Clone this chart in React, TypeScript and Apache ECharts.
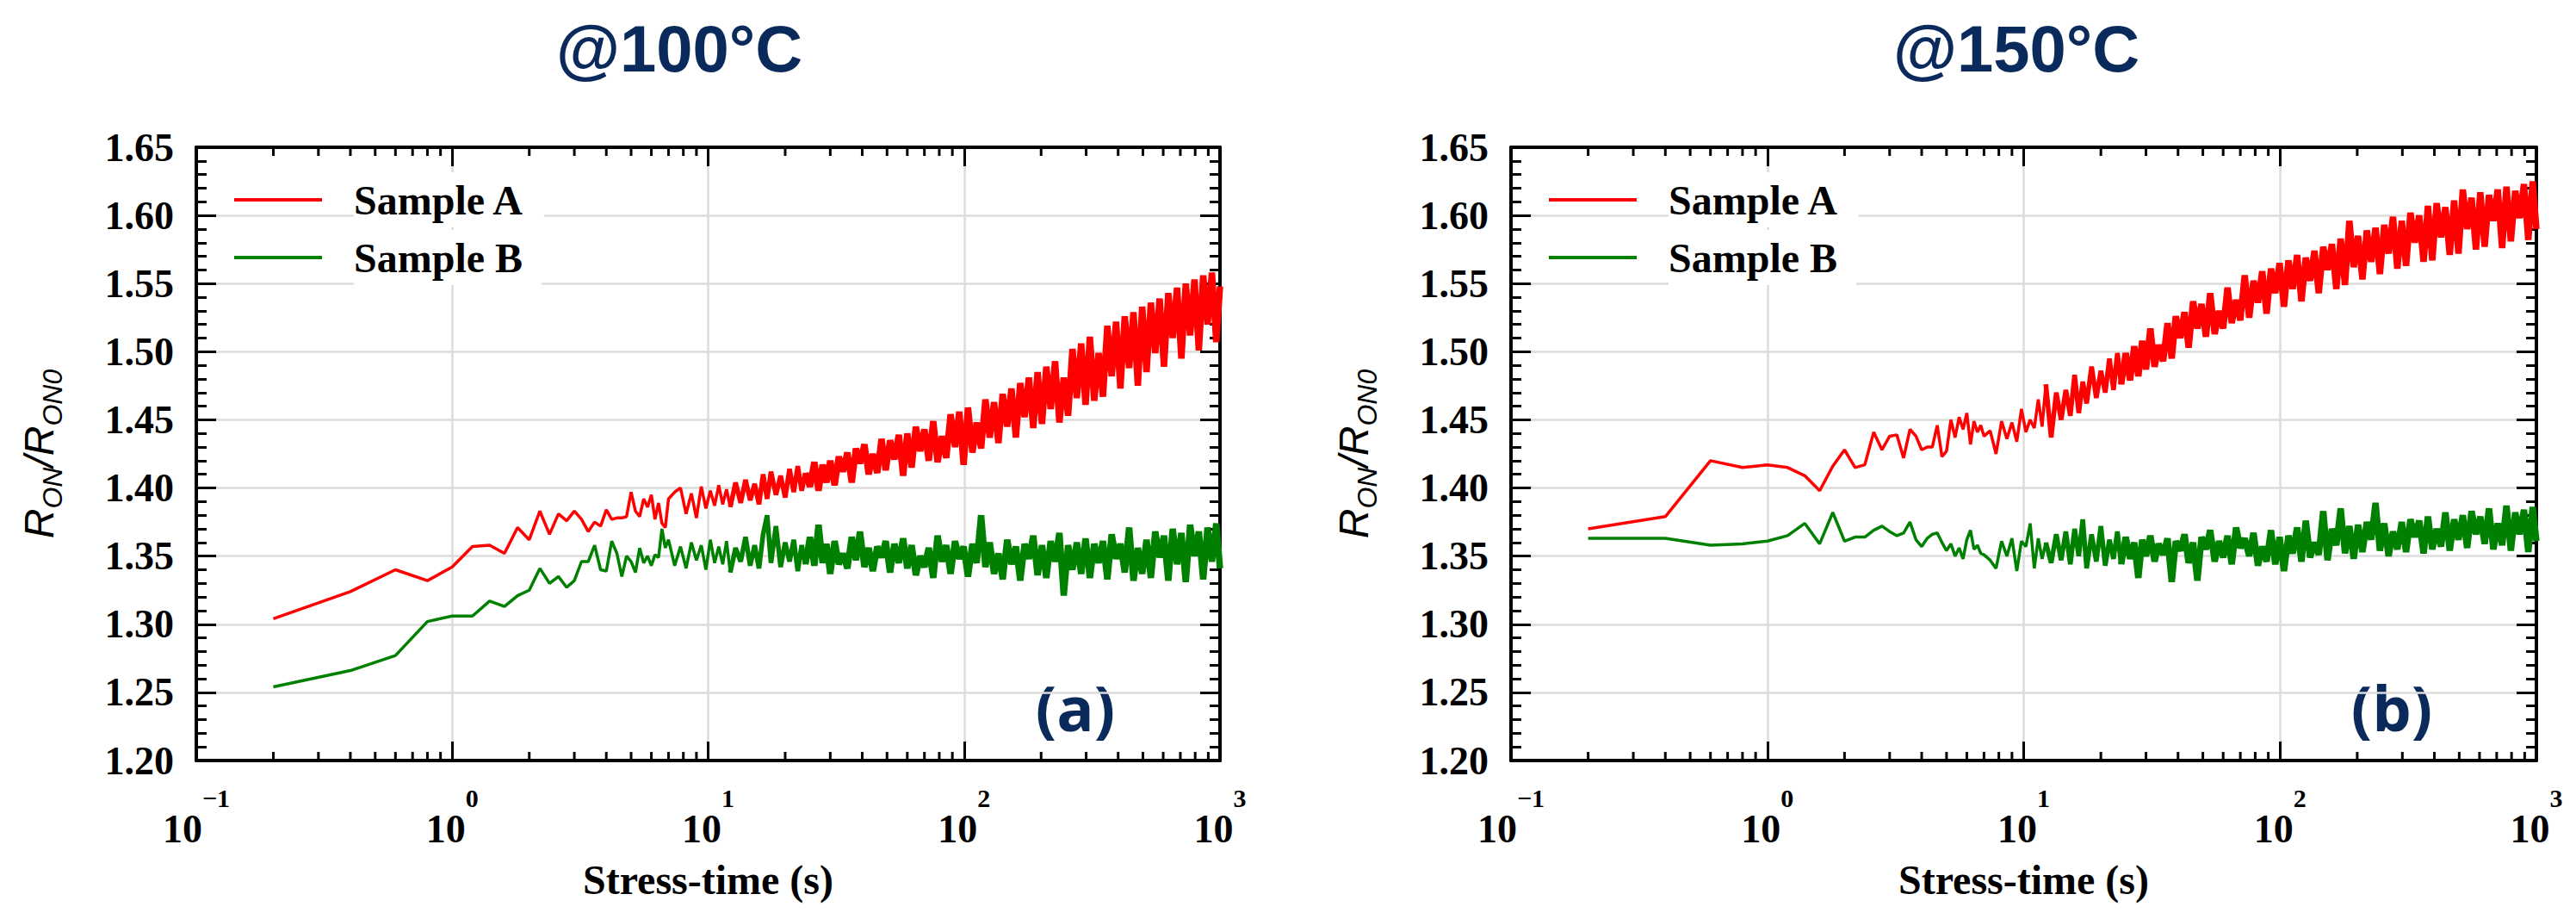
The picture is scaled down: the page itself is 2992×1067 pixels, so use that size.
import { useEffect, useRef } from 'react';
import * as echarts from 'echarts';

// sample times (s), shared by both panels
const TIMES = [
  0.2, 0.4, 0.6, 0.8, 1, 1.2, 1.4, 1.6, 1.8, 2, 2.2, 2.4, 2.6, 2.8, 3, 3.2, 3.4, 3.6, 3.8, 4, 4.2, 4.4, 4.6, 4.8, 5,
  5.2, 5.4, 5.6, 5.8, 6, 6.2, 6.4, 6.6, 6.8, 7,
  7.4, 7.8, 8.2, 8.6, 9, 9.4, 9.8, 10.2, 10.6, 11, 11.4, 11.8, 12.2,
  12.8, 13.4, 14, 14.6, 15.2, 15.8, 16.4, 17, 17.6, 18.4, 19.2, 20, 20.8, 21.6, 22.4, 23.2, 24,
  25, 26, 27, 28, 29, 30,
  31.2, 32.4, 33.6, 35, 36.4, 37.8, 39.2, 40.8, 42.4, 44, 45.8, 47.6, 49.4, 51.4, 53.4, 55.6, 57.8, 60,
  62.4, 64.8, 67.4, 70, 72.8, 75.8, 78.8, 82, 85.2, 88.6, 92.2, 95.8, 99.6,
  103.6, 107.8, 112, 116.6, 121.2, 126, 131, 136.2, 141.6, 147.4, 153.2, 159.4, 165.8, 172.4, 179.2, 186.4, 193.8, 201.6,
  209.6, 218, 226.8, 235.8, 245.2, 255, 265.2, 275.8, 286.8, 298.4,
  310.2, 322.6, 335.6, 349, 363, 377.4, 392.6, 408.2, 424.6, 441.6, 459.2, 477.6, 496.6,
  516.4, 537, 558.6, 581, 604.2, 628.2, 653.4, 679.6, 706.6, 735, 764.4, 795, 826.8, 859.8, 894.2, 930, 967.2, 1000,
];
// the noisy trace thickens into a solid band: pen width per stretch of samples
const PEN_BREAKS = [0, 47, 64, TIMES.length - 1]; // t = 0.2, 12.2, 24, 1000 s
const PEN_WIDTHS = [3.5, 5.5, 7.5];

// @100°C
const SAMPLE_A_100 = [
  1.304, 1.324, 1.340, 1.332, 1.342, 1.357, 1.358, 1.352, 1.371, 1.362, 1.383, 1.366, 1.381, 1.376, 1.383, 1.377, 1.368, 1.375, 1.372, 1.384, 1.377, 1.378, 1.378, 1.379, 1.397,
  1.383, 1.379, 1.392, 1.386, 1.395, 1.377, 1.389, 1.374, 1.371, 1.392,
  1.397, 1.400, 1.381, 1.396, 1.378, 1.401, 1.385, 1.398, 1.387, 1.402, 1.388, 1.399, 1.386,
  1.404, 1.389, 1.406, 1.391, 1.403, 1.388, 1.410, 1.392, 1.412, 1.395, 1.409, 1.393, 1.414, 1.397, 1.416, 1.398, 1.411,
  1.401, 1.419, 1.398, 1.417, 1.404, 1.420,
  1.402, 1.423, 1.412, 1.426, 1.404, 1.429, 1.418, 1.432, 1.410, 1.425, 1.411, 1.436, 1.413, 1.435, 1.421, 1.439, 1.409, 1.440,
  1.415, 1.445, 1.427, 1.443, 1.420, 1.449, 1.419, 1.438, 1.422, 1.454, 1.430, 1.456, 1.417,
  1.459, 1.426, 1.448, 1.429, 1.465, 1.437, 1.463, 1.433, 1.469, 1.445, 1.473, 1.437, 1.477, 1.452, 1.481, 1.444, 1.485, 1.447,
  1.489, 1.458, 1.493, 1.448, 1.481, 1.453, 1.502, 1.466, 1.506, 1.461,
  1.511, 1.464, 1.499, 1.467, 1.519, 1.482, 1.522, 1.473, 1.526, 1.488, 1.529, 1.475, 1.533,
  1.485, 1.536, 1.499, 1.539, 1.489, 1.543, 1.510, 1.547, 1.495, 1.550, 1.512, 1.553, 1.501, 1.556, 1.520, 1.558, 1.507, 1.548,
];
const SAMPLE_B_100 = [
  1.254, 1.266, 1.277, 1.302, 1.306, 1.306, 1.317, 1.313, 1.321, 1.325, 1.341, 1.330, 1.335, 1.327, 1.332, 1.346, 1.346, 1.358, 1.340, 1.339, 1.361, 1.352, 1.335, 1.350, 1.346,
  1.338, 1.356, 1.345, 1.350, 1.343, 1.351, 1.349, 1.370, 1.356, 1.362,
  1.343, 1.357, 1.341, 1.360, 1.347, 1.358, 1.340, 1.362, 1.345, 1.357, 1.344, 1.361, 1.338,
  1.356, 1.346, 1.364, 1.343, 1.358, 1.341, 1.366, 1.380, 1.345, 1.372, 1.342, 1.360, 1.346, 1.362, 1.339, 1.358, 1.344,
  1.364, 1.343, 1.373, 1.345, 1.359, 1.337,
  1.361, 1.344, 1.352, 1.341, 1.364, 1.347, 1.368, 1.342, 1.356, 1.339, 1.357, 1.349, 1.361, 1.338, 1.359, 1.345, 1.363, 1.341,
  1.358, 1.336, 1.350, 1.342, 1.356, 1.334, 1.365, 1.346, 1.358, 1.337, 1.361, 1.348, 1.357,
  1.335, 1.359, 1.345, 1.380, 1.342, 1.360, 1.337, 1.352, 1.333, 1.362, 1.344, 1.357, 1.332, 1.359, 1.348, 1.365, 1.336, 1.358,
  1.334, 1.361, 1.346, 1.367, 1.321, 1.358, 1.340, 1.360, 1.337, 1.363,
  1.334, 1.359, 1.345, 1.361, 1.333, 1.366, 1.348, 1.359, 1.338, 1.371, 1.332, 1.356, 1.337,
  1.362, 1.334, 1.368, 1.349, 1.365, 1.332, 1.370, 1.344, 1.367, 1.331, 1.373, 1.350, 1.368, 1.333, 1.371, 1.346, 1.374, 1.341,
];

// @150°C
const SAMPLE_A_150 = [
  1.370, 1.379, 1.420, 1.415, 1.417, 1.415, 1.409, 1.398, 1.416, 1.428, 1.415, 1.417, 1.441, 1.428, 1.438, 1.439, 1.422, 1.443, 1.438, 1.428, 1.430, 1.430, 1.446, 1.423, 1.427,
  1.450, 1.437, 1.452, 1.443, 1.455, 1.432, 1.449, 1.441, 1.446, 1.438,
  1.442, 1.425, 1.449, 1.436, 1.448, 1.434, 1.458, 1.441, 1.450, 1.444, 1.465, 1.445, 1.476,
  1.437, 1.470, 1.450, 1.472, 1.453, 1.483, 1.455, 1.478, 1.462, 1.489, 1.466, 1.486, 1.470, 1.495, 1.472, 1.499, 1.476,
  1.499, 1.479, 1.504, 1.482, 1.508, 1.487,
  1.517, 1.489, 1.505, 1.493, 1.521, 1.495, 1.526, 1.510, 1.529, 1.503, 1.537, 1.517, 1.535, 1.511, 1.543, 1.513, 1.530, 1.517,
  1.547, 1.521, 1.538, 1.523, 1.556, 1.525, 1.552, 1.536, 1.559, 1.528, 1.561, 1.543, 1.565,
  1.533, 1.567, 1.546, 1.571, 1.537, 1.569, 1.552, 1.574, 1.543, 1.577, 1.560, 1.579, 1.546, 1.583, 1.549, 1.596, 1.562, 1.585,
  1.553, 1.589, 1.566, 1.591, 1.557, 1.593, 1.572, 1.599, 1.561, 1.596,
  1.563, 1.602, 1.580, 1.600, 1.566, 1.607, 1.567, 1.609, 1.584, 1.606, 1.571, 1.611, 1.572,
  1.619, 1.590, 1.613, 1.575, 1.617, 1.577, 1.615, 1.596, 1.619, 1.576, 1.621, 1.581, 1.618, 1.598, 1.623, 1.582, 1.625, 1.590,
];
const SAMPLE_B_150 = [
  1.363, 1.363, 1.358, 1.359, 1.361, 1.365, 1.374, 1.359, 1.382, 1.361, 1.364, 1.364, 1.369, 1.372, 1.368, 1.365, 1.367, 1.375, 1.362, 1.357, 1.363, 1.366, 1.367, 1.360, 1.354,
  1.359, 1.350, 1.356, 1.348, 1.362, 1.369, 1.355, 1.358, 1.352, 1.351,
  1.347, 1.341, 1.361, 1.350, 1.363, 1.339, 1.361, 1.357, 1.374, 1.341, 1.363, 1.348, 1.360,
  1.345, 1.366, 1.347, 1.368, 1.344, 1.370, 1.350, 1.377, 1.341, 1.366, 1.346, 1.372, 1.343, 1.362, 1.348, 1.368, 1.344,
  1.364, 1.348, 1.360, 1.334, 1.362, 1.350,
  1.365, 1.346, 1.359, 1.351, 1.363, 1.331, 1.361, 1.354, 1.366, 1.345, 1.360, 1.332, 1.364, 1.355, 1.369, 1.346, 1.361, 1.349,
  1.365, 1.344, 1.371, 1.356, 1.363, 1.350, 1.367, 1.343, 1.357, 1.346, 1.369, 1.344, 1.364,
  1.339, 1.365, 1.352, 1.371, 1.346, 1.376, 1.349, 1.360, 1.351, 1.383, 1.347, 1.370, 1.358, 1.385, 1.352, 1.372, 1.348, 1.373,
  1.353, 1.375, 1.362, 1.389, 1.354, 1.374, 1.350, 1.368, 1.355, 1.375,
  1.353, 1.377, 1.364, 1.376, 1.352, 1.379, 1.355, 1.370, 1.357, 1.382, 1.354, 1.377, 1.362,
  1.380, 1.356, 1.383, 1.366, 1.379, 1.359, 1.385, 1.355, 1.374, 1.358, 1.387, 1.354, 1.382, 1.366, 1.384, 1.353, 1.386, 1.361,
];

// log-axis minor tick positions
const MINOR_X = [
  0.2, 0.3, 0.4, 0.5, 0.6, 0.7, 0.8, 0.9,
  2, 3, 4, 5, 6, 7, 8, 9,
  20, 30, 40, 50, 60, 70, 80, 90,
  200, 300, 400, 500, 600, 700, 800, 900,
];

const SERIES_NAMES = ['Sample A', 'Sample B'];
const COLORS = ['#ff0000', '#008000'];
const TITLES = ['@100°C', '@150°C'];
const TAGS = ['(a)', '(b)'];
const PANEL_DATA = [
  [SAMPLE_A_100, SAMPLE_B_100],
  [SAMPLE_A_150, SAMPLE_B_150],
];

const GRIDS = [
  { left: 228, top: 171, width: 1189, height: 712 },
  { left: 1755, top: 171, width: 1191, height: 712 },
];
const TITLE_X = [789, 2342];

const SERIF = "'Liberation Serif', 'Times New Roman', serif";
const SANS = "'Liberation Sans', Arial, sans-serif";
const NAVY = '#0a2a5c';
const GRID_LINE = '#dcdcdc';

const expText = (v: number) => {
  const e = Math.round(Math.log10(v));
  return e < 0 ? '\u2212' + -e : String(e);
};

export default function App() {
  const chartRef = useRef<HTMLDivElement>(null);

  useEffect(() => {
    document.body.style.margin = '0';
    if (!chartRef.current) return;
    const chart = echarts.init(chartRef.current, null, { renderer: 'svg' });

    const axisLine = { show: true, onZero: false, lineStyle: { color: '#000', width: 4 } };
    const tickStyle = { color: '#000', width: 3 };

    const xAxis: any[] = [];
    const yAxis: any[] = [];
    const series: any[] = [];
    const legend: any[] = [];
    const graphic: any[] = [];

    GRIDS.forEach((g, i) => {
      xAxis.push(
        {
          type: 'log', logBase: 10, gridIndex: i, position: 'bottom', min: 0.1, max: 1000,
          name: 'Stress-time (s)', nameLocation: 'middle', nameGap: 114,
          nameTextStyle: { fontFamily: SERIF, fontWeight: 'bold', fontSize: 48, lineHeight: 48, color: '#000' },
          axisLine,
          axisTick: { show: true, inside: true, length: 22, lineStyle: tickStyle },
          splitLine: { show: true, lineStyle: { color: GRID_LINE, width: 2.5 } },
          axisLabel: {
            margin: 28,
            formatter: (v: number) => `{b|10}{s|${expText(v)}}`,
            rich: {
              b: { fontFamily: SERIF, fontWeight: 'bold', fontSize: 46, color: '#000', lineHeight: 74, verticalAlign: 'bottom' },
              s: { fontFamily: SERIF, fontWeight: 'bold', fontSize: 30, color: '#000', lineHeight: 30, verticalAlign: 'top' },
            },
          },
        },
        {
          type: 'log', logBase: 10, gridIndex: i, position: 'top', min: 0.1, max: 1000,
          axisLine,
          axisTick: { show: true, inside: true, length: 22, lineStyle: tickStyle },
          axisLabel: { show: false },
          splitLine: { show: false },
        },
      );

      yAxis.push(
        {
          type: 'value', gridIndex: i, position: 'left', min: 1.2, max: 1.65, interval: 0.05,
          name: '{i|R}{s|ON}{i|/R}{s|ON0}', nameLocation: 'middle', nameGap: 151, nameRotate: 90,
          nameTextStyle: {
            rich: {
              i: { fontFamily: SANS, fontStyle: 'italic', fontSize: 48, lineHeight: 56, verticalAlign: 'top', color: '#000' },
              s: { fontFamily: SANS, fontStyle: 'italic', fontSize: 32, lineHeight: 32, verticalAlign: 'bottom', color: '#000' },
            },
          },
          axisLine,
          axisTick: { show: true, inside: true, length: 23, lineStyle: tickStyle },
          minorTick: { show: true, splitNumber: 5, length: 12, lineStyle: tickStyle },
          splitLine: { show: true, lineStyle: { color: GRID_LINE, width: 2.5 } },
          axisLabel: {
            margin: 26, formatter: (v: number) => v.toFixed(2),
            fontFamily: SERIF, fontWeight: 'bold', fontSize: 46, color: '#000',
          },
        },
        {
          type: 'value', gridIndex: i, position: 'right', min: 1.2, max: 1.65, interval: 0.05,
          axisLine,
          axisTick: { show: true, inside: true, length: 23, lineStyle: tickStyle },
          minorTick: { show: true, splitNumber: 5, length: 12, lineStyle: tickStyle },
          splitLine: { show: false },
          axisLabel: { show: false },
        },
      );

      PANEL_DATA[i].forEach((values, k) => {
        const points = TIMES.map((t, j) => [t, values[j]]);
        PEN_WIDTHS.forEach((width, p) => {
          series.push({
            type: 'line',
            name: SERIES_NAMES[k],
            xAxisIndex: 2 * i,
            yAxisIndex: 2 * i,
            data: points.slice(PEN_BREAKS[p], PEN_BREAKS[p + 1] + 1),
            showSymbol: false,
            symbol: 'none',
            color: COLORS[k],
            lineStyle: { color: COLORS[k], width, join: 'bevel' },
            z: 3,
          });
        });
      });

      series.push({
        type: 'custom',
        name: 'minor-ticks',
        xAxisIndex: 2 * i,
        yAxisIndex: 2 * i,
        silent: true,
        clip: false,
        z: 4,
        data: MINOR_X.map((v) => [v, 1.4]),
        renderItem: (params: any, api: any) => {
          const cs = params.coordSys;
          const x = api.coord([api.value(0), api.value(1)])[0];
          const bottom = cs.y + cs.height;
          return {
            type: 'group',
            children: [
              { type: 'line', shape: { x1: x, y1: bottom, x2: x, y2: bottom - 10 }, style: { stroke: '#000', lineWidth: 3 } },
              { type: 'line', shape: { x1: x, y1: cs.y, x2: x, y2: cs.y + 10 }, style: { stroke: '#000', lineWidth: 3 } },
            ],
          };
        },
      });

      legend.push({
        orient: 'vertical',
        left: g.left + 44,
        top: 200,
        padding: 0,
        icon: 'rect',
        itemWidth: 102,
        itemHeight: 4,
        itemGap: 3,
        data: SERIES_NAMES,
        formatter: (name: string) => `{g| }{t|${name}}`,
        textStyle: {
          rich: {
            g: { width: 32, fontSize: 12 },
            t: {
              fontFamily: SERIF, fontWeight: 'bold', fontSize: 48, lineHeight: 50, color: '#000',
              backgroundColor: '#fff', padding: [8, 22, 8, 0],
            },
          },
        },
      });

      graphic.push(
        {
          type: 'text', x: TITLE_X[i], y: 56, silent: true,
          style: { text: TITLES[i], fill: NAVY, fontFamily: SANS, fontWeight: 'bold', fontSize: 76, align: 'center', verticalAlign: 'middle' },
        },
        {
          type: 'text', x: g.left + g.width - 168, y: 821, silent: true,
          style: { text: TAGS[i], fill: NAVY, fontFamily: "'Open Sans', 'Liberation Sans', sans-serif", fontWeight: 'bold', fontSize: 72, align: 'center', verticalAlign: 'middle' },
        },
      );
    });

    chart.setOption({
      animation: false,
      backgroundColor: '#fff',
      textStyle: { fontFamily: SERIF },
      grid: GRIDS.map((g) => ({ ...g, containLabel: false })),
      xAxis,
      yAxis,
      legend,
      series,
      graphic,
    });

    const handleResize = () => chart.resize();
    window.addEventListener('resize', handleResize);
    return () => {
      window.removeEventListener('resize', handleResize);
      chart.dispose();
    };
  }, []);

  return <div ref={chartRef} style={{ width: 2992, height: 1067 }} />;
}
